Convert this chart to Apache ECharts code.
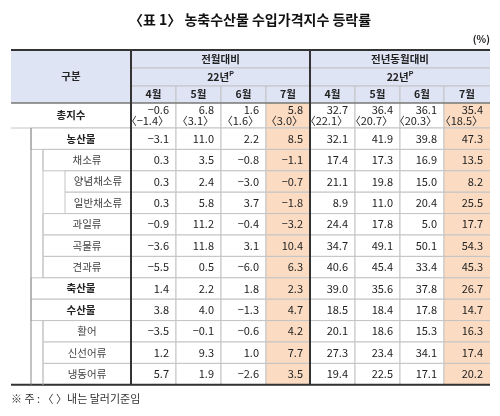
<!DOCTYPE html>
<html><head><meta charset="utf-8">
<script src="https://cdn.jsdelivr.net/npm/echarts@6/dist/echarts.min.js"></script>
<style>html,body{margin:0;padding:0;background:#fff}#c{width:500px;height:416px}</style>
</head><body><div id="c"></div>
<script>
const title='〈표 1〉 농축수산물 수입가격지수 등락률';
const unitText='(%)';
const note='※ 주 : 〈 〉내는 달러기준임';
const groupLabels=['전월대비','전년동월대비'];
const yearLabel='22년';
const months=['4월','5월','6월','7월'];
const totalLabel='총지수';
const momTotal=[-0.6,6.8,1.6,5.8], momTotalUsd=[-1.4,3.1,1.6,3.0];
const yoyTotal=[32.7,36.4,36.1,35.4], yoyTotalUsd=[22.1,20.7,20.3,18.5];
const rowLabels=['농산물','채소류','양념채소류','일반채소류','과일류','곡물류','견과류','축산물','수산물','활어','신선어류','냉동어류'];
const rowLevel=[0,1,2,2,1,1,1,0,0,1,1,1];
const momValues=[[-3.1,11.0,2.2,8.5],[0.3,3.5,-0.8,-1.1],[0.3,2.4,-3.0,-0.7],[0.3,5.8,3.7,-1.8],[-0.9,11.2,-0.4,-3.2],[-3.6,11.8,3.1,10.4],[-5.5,0.5,-6.0,6.3],[1.4,2.2,1.8,2.3],[3.8,4.0,-1.3,4.7],[-3.5,-0.1,-0.6,4.2],[1.2,9.3,1.0,7.7],[5.7,1.9,-2.6,3.5]];
const yoyValues=[[32.1,41.9,39.8,47.3],[17.4,17.3,16.9,13.5],[21.1,19.8,15.0,8.2],[8.9,11.0,20.4,25.5],[24.4,17.8,5.0,17.7],[34.7,49.1,50.1,54.3],[40.6,45.4,33.4,45.3],[39.0,35.6,37.8,26.7],[18.5,18.4,17.8,14.7],[20.1,18.6,15.3,16.3],[27.3,23.4,34.1,17.4],[19.4,22.5,17.1,20.2]];

const fmt=v=>(v<0?'−':'')+Math.abs(v).toFixed(1);
const HEAD='#dfe4f5', HI='#fbdcc3', LINE='#c4c4c4';
const colEdges=[0,120,165,210,255,299,344,389,433,479];
const indent=[20,32,54];
const rowH=21.4, totBottom=78;
const cells=[];
cells.push({x0:0,x1:120,y0:0,y1:53,text:'구분',fill:HEAD,bold:true,align:'center',noLeft:true});
groupLabels.forEach((g,i)=>{
  const a=colEdges[1+i*4], b=colEdges[5+i*4];
  cells.push({x0:a,x1:b,y0:0,y1:18,text:g,fill:HEAD,bold:true,align:'center'});
  cells.push({x0:a,x1:b,y0:18,y1:36,text:'{b|'+yearLabel+'}{s|P}',fill:HEAD,bold:true,align:'center',rich:true});
  months.forEach((m,j)=>cells.push({x0:colEdges[1+i*4+j],x1:colEdges[2+i*4+j],y0:36,y1:53,text:m,fill:HEAD,bold:true,align:'center'}));
});
cells.push({x0:0,x1:120,y0:53,y1:totBottom,text:totalLabel,fill:'#fff',bold:true,align:'center',noLeft:true});
[[momTotal,momTotalUsd],[yoyTotal,yoyTotalUsd]].forEach(([a,u],i)=>a.forEach((v,j)=>cells.push({x0:colEdges[1+i*4+j],x1:colEdges[2+i*4+j],y0:53,y1:totBottom,text:fmt(v)+'\n〈'+fmt(u[j])+'〉',fill:j===3?HI:'#fff',align:'right',lh:11})));
rowLabels.forEach((r,k)=>{
  const y0=totBottom+k*rowH, y1=y0+rowH, lv=rowLevel[k];
  cells.push({x0:indent[lv],x1:120,y0,y1,text:r,fill:'#fff',bold:lv===0,align:'center',label:true,lv});
  [momValues[k],yoyValues[k]].forEach((arr,i)=>arr.forEach((v,j)=>cells.push({x0:colEdges[1+i*4+j],x1:colEdges[2+i*4+j],y0,y1,text:fmt(v),fill:j===3?HI:'#fff',align:'right'})));
});
const bottom=totBottom+rowLabels.length*rowH;
const lines=[
  {x0:0,x1:479,y0:0,y1:0,w:2,c:'#333'},
  {x0:0,x1:479,y0:53,y1:53,w:1.2,c:'#555'},
  {x0:0,x1:479,y0:bottom,y1:bottom,w:2,c:'#333'},
  {x0:120,x1:120,y0:0,y1:bottom,w:2,c:'#333'},
  {x0:299,x1:299,y0:0,y1:bottom,w:2,c:'#333'},
  {x0:indent[0],x1:indent[0],y0:totBottom,y1:bottom,w:1,c:'#888'},
  {x0:indent[1],x1:indent[1],y0:totBottom+rowH,y1:totBottom+7*rowH,w:1,c:LINE},
  {x0:indent[1],x1:indent[1],y0:totBottom+9*rowH,y1:bottom,w:1,c:LINE}
];

function renderCell(params,api){
  const c=cells[params.dataIndex];
  const p0=api.coord([c.x0,c.y0]), p1=api.coord([c.x1,c.y1]);
  const x=p0[0],y=p0[1],w=p1[0]-p0[0],h=p1[1]-p0[1];
  const ch=[{type:'rect',shape:{x,y,width:w,height:h},style:{fill:c.fill}}];
  const ls={stroke:LINE,lineWidth:1};
  ch.push({type:'line',shape:{x1:x,y1:y,x2:x+w,y2:y},style:ls});
  ch.push({type:'line',shape:{x1:x,y1:y+h,x2:x+w,y2:y+h},style:ls});
  if(c.x1<479) ch.push({type:'line',shape:{x1:x+w,y1:y,x2:x+w,y2:y+h},style:ls});
  if(!c.noLeft && c.x0>0) ch.push({type:'line',shape:{x1:x,y1:y,x2:x,y2:y+h},style:ls});
  const tx=c.align==='right'?x+w-7:x+w/2;
  const ts={x:tx,y:y+h/2,align:c.align,verticalAlign:'middle',fill:'#222',fontFamily:'Noto Sans CJK KR',fontSize:c.bold?10.5:11,fontWeight:c.bold?'bold':'normal'};
  if(c.lh) ts.lineHeight=c.lh;
  if(c.label && !c.bold) ts.fontSize=10.5;
  ts.text=c.text;
  if(c.rich){ts.rich={b:{fontSize:10.5,fontWeight:'bold',fontFamily:'Noto Sans CJK KR',fill:'#222'},s:{fontSize:7,fontWeight:'bold',fill:'#222',verticalAlign:'top',padding:[0,0,6,0]}};}
  if(c.label && !c.bold) ts.fill='#444';
  ch.push({type:'text',style:ts});
  return {type:'group',children:ch};
}
function renderLine(params,api){
  const l=lines[params.dataIndex];
  const a=api.coord([l.x0,l.y0]), b=api.coord([l.x1,l.y1]);
  return {type:'line',shape:{x1:a[0],y1:a[1],x2:b[0],y2:b[1]},style:{stroke:l.c,lineWidth:l.w}};
}
const chart=echarts.init(document.getElementById('c'));
chart.setOption({
  animation:false,
  title:{text:title,left:'center',top:8,textStyle:{fontFamily:'Noto Sans CJK KR',fontSize:14,fontWeight:'bold',color:'#111'}},
  graphic:[
    {type:'text',right:10,top:34,style:{text:unitText,font:'bold 10px "Noto Sans CJK KR"',fill:'#222'}},
    {type:'text',left:11,top:393,style:{text:note,font:'11px "Noto Sans CJK KR"',fill:'#333'}}
  ],
  grid:{left:11,top:50,width:479,height:bottom},
  xAxis:{type:'value',min:0,max:479,show:false},
  yAxis:{type:'value',min:0,max:bottom,inverse:true,show:false},
  series:[
    {type:'custom',renderItem:renderCell,data:cells.map((c,i)=>[i]),encode:{x:[],y:[]},silent:true},
    {type:'custom',renderItem:renderLine,data:lines.map((l,i)=>[i]),encode:{x:[],y:[]},silent:true,z:3}
  ]
});
</script></body></html>
